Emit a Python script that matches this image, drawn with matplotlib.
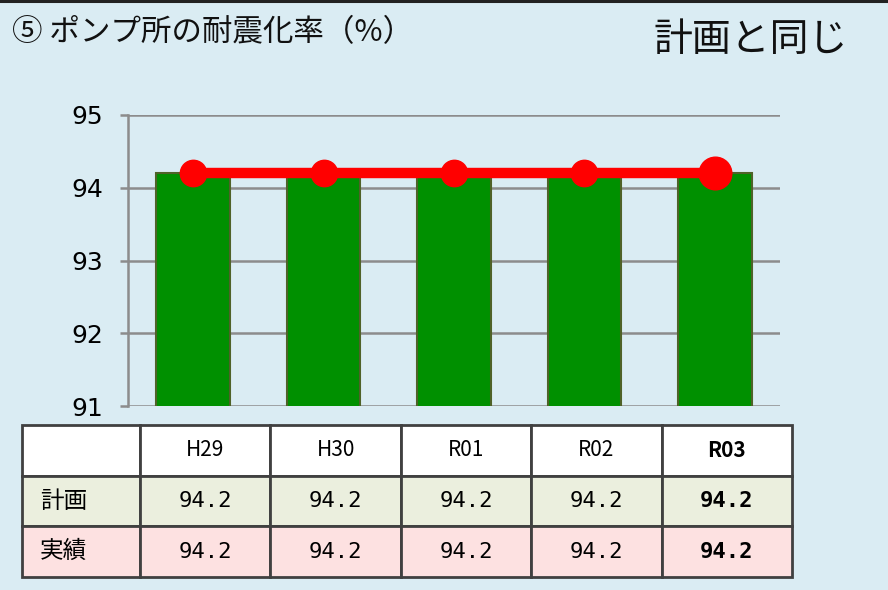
import matplotlib
matplotlib.use("Agg")
import matplotlib.pyplot as plt
from matplotlib.table import Table

plt.rcParams['font.family'] = ['Noto Sans CJK JP', 'DejaVu Sans']

categories = ["H29", "H30", "R01", "R02", "R03"]
plan = [94.2, 94.2, 94.2, 94.2, 94.2]
actual = [94.2, 94.2, 94.2, 94.2, 94.2]
row_labels = ["計画", "実績"]
yticks = [91, 92, 93, 94, 95]
title = "⑤ ポンプ所の耐震化率（%）"
status = "計画と同じ"

W, H = 888, 590
bg = "#DAECF3"
fig = plt.figure(figsize=(W / 100, H / 100), dpi=100, facecolor=bg)

# overlay axes in pixel coordinates
ov = fig.add_axes([0, 0, 1, 1], zorder=0)
ov.set_xlim(0, W)
ov.set_ylim(H, 0)
ov.axis("off")
ov.axhline(1, color="#222222", lw=2.2)
fig.text(12 / W, 1 - 33 / H, title, fontsize=22, va="center", ha="left", color="#111111")
fig.text(848 / W, 1 - 40 / H, status, fontsize=28, va="center", ha="right", color="#111111")

# chart
ax = fig.add_axes([128 / W, 184 / H, (780 - 128) / W, (406 - 115) / H], zorder=1)
ax.set_facecolor("none")
x = list(range(len(categories)))
ax.bar(x, actual, width=0.565, bottom=0, color="#009000", edgecolor="#4F6228", linewidth=1.5, zorder=2)
sizes = [19] * (len(categories) - 1) + [23.5]
ax.plot(x, plan, color="#FF0000", lw=7.5, zorder=3, solid_capstyle="butt")
for xi, yi, s in zip(x, plan, sizes):
    ax.plot([xi], [yi], "o", color="#FF0000", markersize=s, zorder=4)
ax.set_xlim(-0.5, len(categories) - 0.5)
ax.set_ylim(yticks[0], yticks[-1])
ax.set_yticks(yticks)
ax.set_yticklabels([str(t) for t in yticks], fontsize=18, family="DejaVu Sans")
ax.set_xticks([])
ax.yaxis.grid(True, color="#8C8C8C", lw=1.8, zorder=0)
ax.tick_params(axis="y", length=6, width=1.8, color="#8C8C8C", pad=12)
for s in ["top", "right", "bottom"]:
    ax.spines[s].set_visible(False)
ax.spines["left"].set_color("#8C8C8C")
ax.spines["left"].set_linewidth(1.8)

# table
tax = fig.add_axes([22 / W, (H - 577) / H, (792 - 22) / W, (577 - 425) / H], zorder=2)
tax.axis("off")
tbl = Table(tax, bbox=[0, 0, 1, 1])
tbl.auto_set_font_size(False)
first_w = 118 / 770
other_w = (1 - first_w) / len(categories)
rows = [[""] + categories,
        [row_labels[0]] + [f"{v:.1f}" for v in plan],
        [row_labels[1]] + [f"{v:.1f}" for v in actual]]
colors = ["#FFFFFF", "#EBEFDE", "#FDE1E1"]
for r, row in enumerate(rows):
    for c, txt in enumerate(row):
        w = first_w if c == 0 else other_w
        cell = tbl.add_cell(r, c, width=w, height=1 / 3, text=txt,
                            loc="left" if c == 0 else "center",
                            facecolor=colors[r], edgecolor="#404040")
        cell.set_linewidth(2)
        if c == 0:
            cell.PAD = 0.15
        t = cell.get_text()
        bold = c == len(row) - 1
        if r > 0 and c > 0:
            t.set_family(["DejaVu Sans Mono"])
            t.set_fontsize(16)
        elif c == 0:
            t.set_family(["Noto Sans CJK JP", "DejaVu Sans"])
            t.set_fontsize(17)
        else:
            t.set_family(["Noto Sans CJK JP", "DejaVu Sans"])
            t.set_fontsize(15)
        if bold:
            t.set_fontweight("bold")
tax.add_table(tbl)

fig.savefig("out.png", dpi=100, facecolor=bg)
